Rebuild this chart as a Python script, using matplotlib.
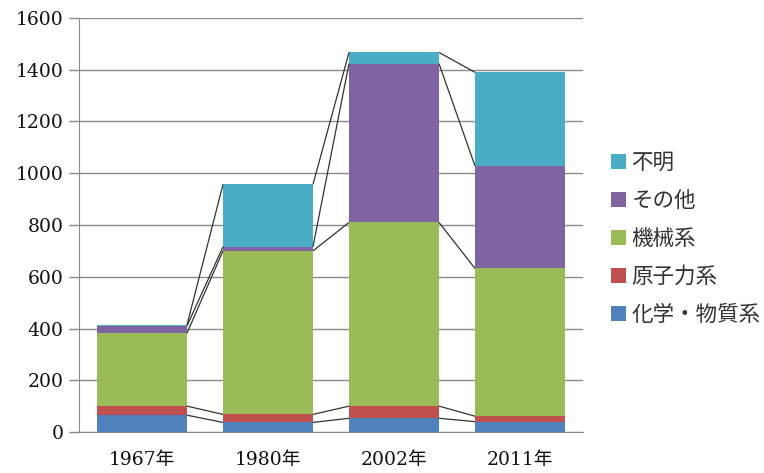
import matplotlib
matplotlib.use("Agg")
import matplotlib.pyplot as plt
import numpy as np

categories = ["1967年", "1980年", "2002年", "2011年"]
series_names = ["化学・物質系", "原子力系", "機械系", "その他", "不明"]
chem = [65, 37, 53, 40]
nuclear = [35, 31, 47, 21]
machine = [282, 632, 710, 571]
other = [28, 16, 614, 396]
unknown = [4, 241, 43, 362]
yticks = [0, 200, 400, 600, 800, 1000, 1200, 1400, 1600]

colors = ["#4F81BD", "#C0504D", "#9BBB59", "#8064A2", "#4BACC6"]
series = [chem, nuclear, machine, other, unknown]

plt.rcParams['font.family'] = ['DejaVu Serif', 'Noto Sans CJK JP']

fig = plt.figure(figsize=(7.64, 4.73), dpi=100)
ax = fig.add_axes([79/764, 1 - 432/473, (583 - 79)/764, (432 - 18)/473])

x = np.arange(len(categories))
w = 0.714
bottom = np.zeros(len(categories))
handles = []
for vals, col, name in zip(series, colors, series_names):
    v = np.array(vals, dtype=float)
    b = ax.bar(x, v, w, bottom=bottom, color=col, label=name, zorder=3, linewidth=0)
    handles.append(b)
    top = bottom + v
    for i in range(len(categories) - 1):
        ax.plot([x[i] + w/2, x[i+1] - w/2], [top[i], top[i+1]],
                color="#333333", lw=0.9, zorder=4, solid_capstyle='butt')
    bottom = top

ax.set_xlim(-0.5, len(categories) - 0.5)
ax.set_ylim(0, 1600)
ax.set_yticks(yticks)
ax.set_yticklabels([str(t) for t in yticks])
ax.set_xticks(x)
ax.set_xticklabels(categories)
ax.tick_params(axis='y', length=7, width=1, color="#888888", labelsize=13.5, pad=4, labelcolor="#111111")
ax.tick_params(axis='x', length=0, labelsize=13.5, pad=14, labelcolor="#111111")
ax.grid(axis='y', color="#8a8a8a", lw=1, zorder=0)
ax.set_axisbelow(True)
for s in ["top", "right"]:
    ax.spines[s].set_visible(False)
ax.spines["left"].set_color("#8a8a8a")
ax.spines["bottom"].set_color("#8a8a8a")

leg = fig.legend(handles[::-1], series_names[::-1], loc="upper left",
                 bbox_to_anchor=(611/764, 1 - 152/473), frameon=False,
                 prop={'family': ['Noto Sans CJK JP'], 'size': 15.5},
                 handlelength=0.7, handleheight=0.7, handletextpad=0.25,
                 labelspacing=0.74, borderaxespad=0, borderpad=0)
for t in leg.get_texts():
    t.set_color("#333333")

fig.savefig("out.png", dpi=100)
